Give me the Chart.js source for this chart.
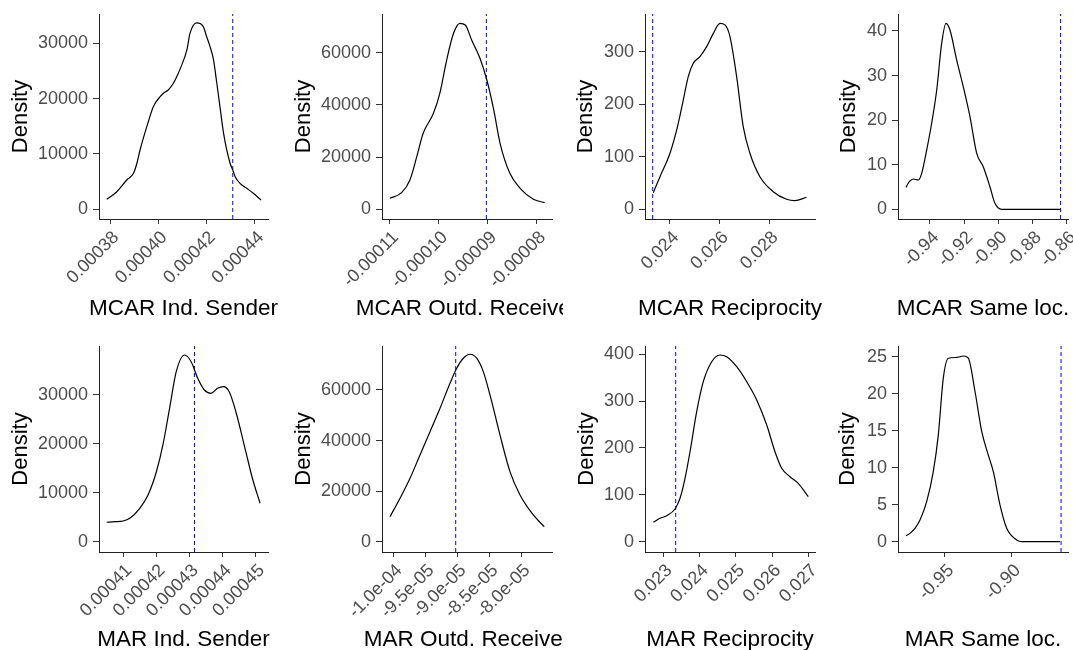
<!DOCTYPE html>
<html lang="en">
<head>
    <meta charset="UTF-8">
    <title>Density plots</title>
    <script src="https://cdn.jsdelivr.net/npm/chart.js@4.4.1/dist/chart.umd.min.js"></script>
    <style>
        html, body { margin: 0; padding: 0; background: #fff; overflow: hidden; }
        #wrap { position: relative; width: 1073px; height: 650px; overflow: hidden; }
        #wrap canvas { position: absolute; }
    </style>
</head>
<body>
<div id="wrap"></div>

<script type="text/javascript">
    // panel titles (x axis) and the reference value (dashed blue line)
    var titles = ["MCAR Ind. Sender", "MCAR Outd. Receiver", "MCAR Reciprocity", "MCAR Same loc.",
                  "MAR Ind. Sender", "MAR Outd. Receiver", "MAR Reciprocity", "MAR Same loc."];
    var refValues = [0.0004308, -0.0000903, 0.023304, -0.86357, 0.0004315, -0.00009025, 0.023342, -0.863];

    // density curves
    var mcarSenderX = [0.0003786, 0.0003828, 0.0003869, 0.0003897, 0.0003911, 0.0003924, 0.0003952, 0.0003979, 0.0004007, 0.0004021, 0.0004041, 0.0004062, 0.0004076, 0.0004097, 0.0004118, 0.0004131, 0.0004159, 0.0004186, 0.00042, 0.0004214, 0.0004228, 0.0004242, 0.0004255, 0.000427, 0.0004297, 0.0004308, 0.0004318, 0.0004338, 0.0004366, 0.0004393, 0.0004425];
    var mcarSenderY = [1810, 3180, 5300, 6500, 8320, 10720, 14940, 18550, 20360, 20980, 21570, 22780, 23980, 26100, 28800, 31830, 33700, 33020, 31200, 29400, 27080, 22780, 18550, 13740, 8320, 7100, 5900, 4700, 3800, 2900, 1680];

    var mcarOutdX = [-0.00011, -0.0001076, -0.0001059, -0.0001045, -0.0001032, -0.0001011, -0.0000998, -0.0000984, -0.000097, -0.0000957, -0.0000946, -0.0000933, -0.0000916, -0.0000902, -0.0000888, -0.0000875, -0.0000855, -0.0000834, -0.0000807, -0.0000784];
    var mcarOutdY = [4210, 6360, 11230, 20150, 29120, 36780, 44440, 57200, 67430, 71260, 70600, 64870, 57850, 49540, 38160, 25290, 13790, 8050, 3830, 2530];

    var mcarRecipX = [0.023328, 0.023598, 0.024, 0.02427, 0.024535, 0.024736, 0.024938, 0.025207, 0.025477, 0.025746, 0.026014, 0.026215, 0.026416, 0.026684, 0.02695, 0.02722, 0.027622, 0.028158, 0.028696, 0.02903, 0.029501];
    var mcarRecipY = [31.6, 62, 106.7, 151, 208, 252.6, 278, 290.7, 309.7, 335, 354, 351, 328.8, 252.6, 157.3, 106.7, 62, 33.5, 19, 16.4, 22.9];

    var mcarSameX = [-0.95404, -0.9521, -0.94977, -0.94684, -0.94485, -0.94193, -0.93901, -0.93608, -0.93316, -0.93064, -0.9283, -0.92439, -0.92053, -0.91661, -0.91269, -0.90883, -0.90491, -0.90199, -0.89807, -0.86357];
    var mcarSameY = [4.93, 6.19, 6.8, 6.57, 8.07, 13.3, 19.3, 26.7, 37.2, 41.7, 40.2, 33.5, 27.5, 20.8, 12.6, 9.55, 5.07, 1.35, 0, 0];

    var marSenderX = [0.00040502, 0.00040751, 0.00041, 0.00041201, 0.00041501, 0.0004175, 0.00042002, 0.00042199, 0.000424, 0.00042601, 0.0004285, 0.00043051, 0.00043249, 0.0004345, 0.00043651, 0.00043849, 0.0004402, 0.00044199, 0.000444, 0.000447, 0.00044898, 0.00045129];
    var marSenderY = [3970, 4090, 4230, 4790, 6830, 9550, 14310, 19780, 27280, 34760, 38180, 36810, 33410, 31020, 30350, 31370, 31700, 30670, 26580, 18400, 12970, 7850];

    var marOutdX = [-0.00010052, -0.00009895, -0.00009739, -0.00009583, -0.00009427, -0.0000927, -0.00009114, -0.00009009, -0.00008906, -0.00008802, -0.00008697, -0.00008594, -0.00008489, -0.00008333, -0.00008177, -0.0000802, -0.00007812, -0.00007641];
    var marOutdY = [9890, 17170, 25080, 34300, 43520, 52780, 62670, 68600, 72560, 74140, 72560, 67260, 58040, 42220, 27700, 18480, 10560, 5930];

    var marRecipX = [0.022724, 0.022909, 0.023094, 0.023323, 0.023461, 0.023599, 0.023737, 0.023921, 0.024103, 0.024335, 0.024564, 0.024749, 0.025025, 0.025301, 0.025577, 0.025853, 0.026081, 0.026266, 0.026495, 0.026724, 0.027];
    var marRecipY = [41.4, 49.9, 55.5, 69.8, 92.6, 135.3, 192, 277.5, 341.5, 384.2, 398.5, 394.9, 373.5, 341.5, 302.5, 249.1, 192, 156.7, 138.7, 124.6, 96];

    var marSameX = [-0.97925, -0.97625, -0.9725, -0.96875, -0.96373, -0.95878, -0.95503, -0.95128, -0.94753, -0.94123, -0.93628, -0.93253, -0.9275, -0.92248, -0.91753, -0.91378, -0.90875, -0.90373, -0.89623, -0.89248, -0.86375];
    var marSameY = [0.81, 1.13, 1.81, 2.93, 5.41, 9.46, 14.4, 22.1, 24.8, 24.9, 25.1, 24.8, 20.3, 14.9, 11.7, 9.46, 4.96, 1.81, 0.23, 0, 0];

    // tick values and labels
    var xTickValues = [
        [0.00038, 0.00040, 0.00042, 0.00044],
        [-0.00011, -0.00010, -0.00009, -0.00008],
        [0.024, 0.026, 0.028],
        [-0.94, -0.92, -0.90, -0.88, -0.86],
        [0.00041, 0.00042, 0.00043, 0.00044, 0.00045],
        [-0.0001, -0.000095, -0.00009, -0.000085, -0.00008],
        [0.023, 0.024, 0.025, 0.026, 0.027],
        [-0.95, -0.90]
    ];
    var xTickLabels = [
        ["0.00038", "0.00040", "0.00042", "0.00044"],
        ["-0.00011", "-0.00010", "-0.00009", "-0.00008"],
        ["0.024", "0.026", "0.028"],
        ["-0.94", "-0.92", "-0.90", "-0.88", "-0.86"],
        ["0.00041", "0.00042", "0.00043", "0.00044", "0.00045"],
        ["-1.0e-04", "-9.5e-05", "-9.0e-05", "-8.5e-05", "-8.0e-05"],
        ["0.023", "0.024", "0.025", "0.026", "0.027"],
        ["-0.95", "-0.90"]
    ];
    var yTickValues = [
        [0, 10000, 20000, 30000],
        [0, 20000, 40000, 60000],
        [0, 100, 200, 300],
        [0, 10, 20, 30, 40],
        [0, 10000, 20000, 30000],
        [0, 20000, 40000, 60000],
        [0, 100, 200, 300, 400],
        [0, 5, 10, 15, 20, 25]
    ];

    // axis limits (ggplot's 5% expansion)
    var xLimits = [[0.0003754, 0.0004454], [-0.0001116, -0.0000769], [0.022994, 0.02984], [-0.95871, -0.85924],
                   [0.00040271, 0.00045369], [-0.00010177, -0.0000752], [0.022495, 0.027185], [-0.98523, -0.8578]];
    var yLimits = [[-1750, 35300], [-3720, 74830], [-18.5, 371.8], [-2.17, 43.8],
                   [-2110, 40020], [-4080, 77400], [-22, 417.7], [-1.39, 26.45]];

    var curvesX = [mcarSenderX, mcarOutdX, mcarRecipX, mcarSameX, marSenderX, marOutdX, marRecipX, marSameX];
    var curvesY = [mcarSenderY, mcarOutdY, mcarRecipY, mcarSameY, marSenderY, marOutdY, marRecipY, marSameY];

    // layout of the 4x2 grid
    var plotLeft = [99, 382, 645, 898];
    var plotRight = [268, 552, 815, 1068];
    var rightPad = [15, 11, 15, 24];
    var densityOffset = [78, 78, 59, 49, 78, 78, 58, 50];
    var plotTop = [14, 346];
    var plotBottom = [219, 552];
    var xAxisHeight = [106, 98];
    var xTitleOffset = [90, 88];

    var FONT = '"Liberation Sans", Arial, sans-serif';
    Chart.defaults.font.family = FONT;

    var xTitlePlugin = {
        id: 'xTitle',
        afterDraw: function(chart, args, opts) {
            var ctx = chart.ctx, area = chart.chartArea;
            ctx.save();
            ctx.font = '22.5px ' + FONT;
            ctx.fillStyle = '#000';
            ctx.textAlign = 'center';
            ctx.textBaseline = 'middle';
            ctx.fillText(opts.text, (area.left + area.right) / 2, area.bottom + opts.offset);
            ctx.restore();
        }
    };

    var wrap = document.getElementById('wrap');
    var TOP_PAD = 16;

    for (var i = 0; i < 8; i++) {
        (function(i) {
            var col = i % 4, row = Math.floor(i / 4);
            var left = plotLeft[col] - 100;
            var top = plotTop[row] - TOP_PAD;
            var w = plotRight[col] + rightPad[col] - left;
            var h = TOP_PAD + (plotBottom[row] - plotTop[row]) + xAxisHeight[row];

            var canvas = document.createElement('canvas');
            canvas.width = w;
            canvas.height = h;
            canvas.style.left = left + 'px';
            canvas.style.top = top + 'px';
            wrap.appendChild(canvas);

            var points = curvesX[i].map(function(x, k) { return {x: x, y: curvesY[i][k]}; });
            var refLine = [{x: refValues[i], y: yLimits[i][0]}, {x: refValues[i], y: yLimits[i][1]}];

            new Chart(canvas.getContext('2d'), {
                type: 'line',
                data: {
                    datasets: [{
                        data: points,
                        borderColor: '#000',
                        borderWidth: 1.2,
                        pointRadius: 0,
                        cubicInterpolationMode: 'monotone',
                        fill: false
                    }, {
                        data: refLine,
                        borderColor: '#0000ff',
                        borderWidth: 1,
                        borderDash: [4, 3],
                        pointRadius: 0,
                        fill: false
                    }]
                },
                options: {
                    responsive: false,
                    animation: false,
                    devicePixelRatio: 1,
                    events: [],
                    layout: { padding: { top: TOP_PAD, right: rightPad[col], left: 0, bottom: 0 } },
                    plugins: {
                        legend: { display: false },
                        tooltip: { enabled: false },
                        xTitle: { text: titles[i], offset: xTitleOffset[row] }
                    },
                    scales: {
                        x: {
                            type: 'linear',
                            position: 'bottom',
                            min: xLimits[i][0],
                            max: xLimits[i][1],
                            afterBuildTicks: function(s) { s.ticks = xTickValues[i].map(function(v) { return {value: v}; }); },
                            afterFit: function(s) { s.height = xAxisHeight[row]; },
                            grid: { display: true, drawOnChartArea: false, drawTicks: true, tickLength: 5, tickColor: '#333' },
                            border: { display: true, color: '#222', width: 1 },
                            ticks: {
                                autoSkip: false,
                                minRotation: 45,
                                maxRotation: 45,
                                padding: 3,
                                labelOffset: 6,
                                color: '#4d4d4d',
                                font: { size: 18 },
                                callback: function(v, k) { return xTickLabels[i][k]; }
                            }
                        },
                        y: {
                            type: 'linear',
                            position: 'left',
                            min: yLimits[i][0],
                            max: yLimits[i][1],
                            afterBuildTicks: function(s) { s.ticks = yTickValues[i].map(function(v) { return {value: v}; }); },
                            afterFit: function(s) { s.width = 100; },
                            grid: { display: true, drawOnChartArea: false, drawTicks: true, tickLength: 6, tickColor: '#333' },
                            border: { display: true, color: '#222', width: 1 },
                            ticks: {
                                padding: 5,
                                color: '#4d4d4d',
                                font: { size: 18 },
                                callback: function(v) { return String(v); }
                            },
                            title: {
                                display: true,
                                text: 'Density',
                                color: '#000',
                                font: { size: 22 },
                                padding: { top: (100 - densityOffset[i]) - 13.2, bottom: 0 }
                            }
                        }
                    }
                },
                plugins: [xTitlePlugin]
            });
        })(i);
    }
</script>
</body>
</html>
